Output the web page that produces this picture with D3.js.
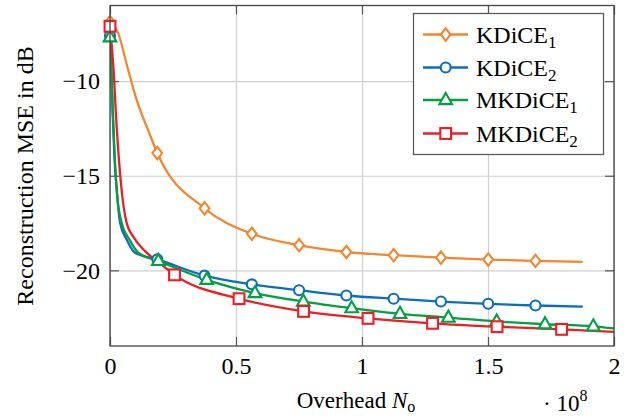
<!DOCTYPE html>
<html><head><meta charset="utf-8">
<script src="https://cdn.jsdelivr.net/npm/d3@7"></script>
<style>
body{margin:0;background:#fff}
svg{display:block}
svg text{font-family:"Liberation Serif","DejaVu Serif",serif !important;fill:#000}
</style>
</head><body>
<svg id="c" width="633" height="418"></svg>
<script>
// ---------- data (overhead in units of 1e8, MSE in dB) ----------
const xTicks = [0, 0.5, 1, 1.5, 2];
const xTickLabels = ["0", "0.5", "1", "1.5", "2"];
const yTicks = [-20, -15, -10];
const yTickLabels = ["\u221220", "\u221215", "\u221210"];

const seriesNames = ["KDiCE", "KDiCE", "MKDiCE", "MKDiCE"];
const seriesSubs = ["1", "2", "1", "2"];

// KDiCE_1 : marked points and extra (unmarked) curve points
const kd1MarkX = [0, 0.1876, 0.3752, 0.5628, 0.7504, 0.938, 1.1256, 1.3132, 1.5008, 1.6884];
const kd1MarkY = [-6.88, -13.8, -16.72, -18.07, -18.67, -19.03, -19.2, -19.33, -19.43, -19.5];
const kd1PathX = [0.033, 0.069, 0.106, 0.156, 1.876];
const kd1PathY = [-7.49, -9.25, -11.0, -12.75, -19.55];

// KDiCE_2
const kd2MarkX = [0, 0.1876, 0.3752, 0.5628, 0.7504, 0.938, 1.1256, 1.3132, 1.5008, 1.6884];
const kd2MarkY = [-7.6, -19.42, -20.28, -20.74, -21.05, -21.33, -21.5, -21.65, -21.77, -21.86];
const kd2PathX = [0.006, 0.010, 0.0175, 0.0266, 0.040, 0.066, 0.099, 1.876];
const kd2PathY = [-9.77, -11.53, -13.98, -15.74, -17.49, -18.37, -19.07, -21.92];

// MKDiCE_1
const mk1MarkX = [0, 0.1918, 0.3836, 0.5754, 0.7672, 0.959, 1.1508, 1.3426, 1.5344, 1.7262, 1.918];
const mk1MarkY = [-7.68, -19.5, -20.5, -21.2, -21.65, -22.0, -22.3, -22.5, -22.7, -22.85, -22.96];
const mk1PathX = [0.0067, 0.011, 0.0187, 0.0266, 0.046, 0.077, 0.112, 2.0];
const mk1PathY = [-9.77, -11.53, -13.98, -15.74, -17.49, -18.37, -19.07, -23.07];

// MKDiCE_2
const mk2MarkX = [0, 0.256, 0.512, 0.768, 1.024, 1.28, 1.536, 1.792];
const mk2MarkY = [-7.1, -20.24, -21.5, -22.17, -22.54, -22.8, -22.98, -23.12];
const mk2PathX = [0.016, 0.0226, 0.0345, 0.046, 0.066, 0.096, 0.14, 0.2, 2.0];
const mk2PathY = [-9.77, -11.53, -13.98, -15.74, -17.49, -18.3, -19.0, -19.65, -23.25];

const colors = ["#F4862F", "#0A6EBD", "#00A043", "#EE1C25"];
const markerTypes = ["diamond", "circle", "triangle", "square"];

// ---------- build ----------
const markX = [kd1MarkX, kd2MarkX, mk1MarkX, mk2MarkX];
const markY = [kd1MarkY, kd2MarkY, mk1MarkY, mk2MarkY];
const pathX = [kd1PathX, kd2PathX, mk1PathX, mk2PathX];
const pathY = [kd1PathY, kd2PathY, mk1PathY, mk2PathY];

const series = seriesNames.map((n, i) => {
  const marks = markX[i].map((v, j) => [v, markY[i][j]]);
  const extra = pathX[i].map((v, j) => [v, pathY[i][j]]);
  const all = marks.concat(extra).sort((a, b) => a[0] - b[0]);
  return {name: n, sub: seriesSubs[i], color: colors[i], marker: markerTypes[i], marks, all};
});

const FONT = '"Liberation Serif","DejaVu Serif",serif';
const L = 110, R = 614, T = 5.5, B = 346;
const svg = d3.select("#c");
const x = d3.scaleLinear().domain([0, 2]).range([L, R]);
const y = d3.scaleLinear().domain([-24, -6]).range([B, T]);

// grid
const grid = svg.append("g");
grid.append("g").attr("transform", `translate(0,${B})`)
  .call(d3.axisBottom(x).tickValues(xTicks).tickSize(-(B - T)).tickFormat(""))
  .call(g => g.select(".domain").remove())
  .call(g => g.selectAll("line").attr("stroke", "#cfcfcf").attr("stroke-width", 1.2));
grid.append("g").attr("transform", `translate(${L},0)`)
  .call(d3.axisLeft(y).tickValues(yTicks).tickSize(-(R - L)).tickFormat(""))
  .call(g => g.select(".domain").remove())
  .call(g => g.selectAll("line").attr("stroke", "#cfcfcf").attr("stroke-width", 1.2));

// inward ticks on all sides
const tickStyle = g => { g.select(".domain").remove(); g.selectAll("line").attr("stroke", "#555").attr("stroke-width", 1.2); };
svg.append("g").attr("transform", `translate(0,${B})`).call(d3.axisBottom(x).tickValues(xTicks).tickSize(-9).tickFormat("")).call(tickStyle);
svg.append("g").attr("transform", `translate(0,${T})`).call(d3.axisTop(x).tickValues(xTicks).tickSize(-9).tickFormat("")).call(tickStyle);
svg.append("g").attr("transform", `translate(${L},0)`).call(d3.axisLeft(y).tickValues(yTicks).tickSize(-9).tickFormat("")).call(tickStyle);
svg.append("g").attr("transform", `translate(${R},0)`).call(d3.axisRight(y).tickValues(yTicks).tickSize(-9).tickFormat("")).call(tickStyle);

// tick labels
svg.append("g").attr("transform", `translate(0,${B})`)
  .call(d3.axisBottom(x).tickValues(xTicks).tickSize(0).tickPadding(11).tickFormat((d, i) => xTickLabels[i]))
  .attr("font-family", FONT).attr("font-size", 24)
  .call(g => g.select(".domain").remove())
  .call(g => g.selectAll("text").style("font-family", FONT).attr("font-size", 24).attr("fill", "#000"));
svg.append("g").attr("transform", `translate(${L},0)`)
  .call(d3.axisLeft(y).tickValues(yTicks).tickSize(0).tickPadding(10).tickFormat((d, i) => yTickLabels[i]))
  .attr("font-family", FONT).attr("font-size", 24)
  .call(g => g.select(".domain").remove())
  .call(g => g.selectAll("text").style("font-family", FONT).attr("font-size", 24).attr("fill", "#000"));

// data lines
svg.append("defs").append("clipPath").attr("id", "clip")
  .append("rect").attr("x", L).attr("y", T).attr("width", R - L).attr("height", B - T);
const line = d3.line().x(d => x(d[0])).y(d => y(d[1])).curve(d3.curveMonotoneX);

function drawMarker(g, type, cx, cy, color) {
  const s = {fill: "#fff", stroke: color, "stroke-width": 2.1};
  let el;
  if (type === "circle") el = g.append("circle").attr("cx", cx).attr("cy", cy).attr("r", 5);
  else if (type === "square") el = g.append("rect").attr("x", cx - 5.4).attr("y", cy - 5.4).attr("width", 10.8).attr("height", 10.8);
  else if (type === "diamond") el = g.append("path").attr("d", `M${cx},${cy - 6.2}L${cx + 4.9},${cy}L${cx},${cy + 6.2}L${cx - 4.9},${cy}Z`);
  else el = g.append("path").attr("d", `M${cx},${cy - 7}L${cx + 6.3},${cy + 4.1}L${cx - 6.3},${cy + 4.1}Z`);
  Object.entries(s).forEach(([k, v]) => el.attr(k, v));
}

const plot = svg.append("g").attr("clip-path", "url(#clip)");
series.forEach(s => {
  plot.append("path").datum(s.all).attr("d", line).attr("fill", "none")
    .attr("stroke", s.color).attr("stroke-width", 2.3).attr("stroke-linejoin", "round");
});
const markLayer = svg.append("g");
series.forEach(s => {
  const g = markLayer.append("g");
  s.marks.forEach(d => drawMarker(g, s.marker, x(d[0]), y(d[1]), s.color));
});

// frame
svg.append("rect").attr("x", L).attr("y", T).attr("width", R - L).attr("height", B - T)
  .attr("fill", "none").attr("stroke", "#444").attr("stroke-width", 1.3);

// axis labels
const xl = svg.append("text").attr("x", 356).attr("y", 408).attr("text-anchor", "middle").attr("font-size", 23);
xl.append("tspan").text("Overhead ");
xl.append("tspan").attr("font-style", "italic").text("N");
xl.append("tspan").attr("font-size", 16).attr("dy", 4).text("o");

const sc = svg.append("text").attr("x", 543).attr("y", 411).attr("font-size", 23);
sc.append("tspan").text("\u00B7 10");
sc.append("tspan").attr("font-size", 16).attr("dy", -10).text("8");

svg.append("text").attr("transform", `translate(33,176) rotate(-90)`)
  .attr("text-anchor", "middle").attr("font-size", 24).text("Reconstruction MSE in dB");

// legend
const lg = svg.append("g");
lg.append("rect").attr("x", 413.5).attr("y", 13.5).attr("width", 190).attr("height", 141)
  .attr("fill", "#fff").attr("stroke", "#555").attr("stroke-width", 1.2);
const rowY = [34.5, 67.5, 100, 133.5];
series.forEach((s, i) => {
  const cy = rowY[i];
  lg.append("line").attr("x1", 423).attr("x2", 468).attr("y1", cy).attr("y2", cy)
    .attr("stroke", s.color).attr("stroke-width", 2.3);
  drawMarker(lg, s.marker, 445.7, cy, s.color);
  const t = lg.append("text").attr("x", 476).attr("y", cy + 8).attr("font-size", 24);
  t.append("tspan").text(s.name);
  t.append("tspan").attr("font-size", 17).attr("dy", 5).text(s.sub);
});
</script>
</body></html>
